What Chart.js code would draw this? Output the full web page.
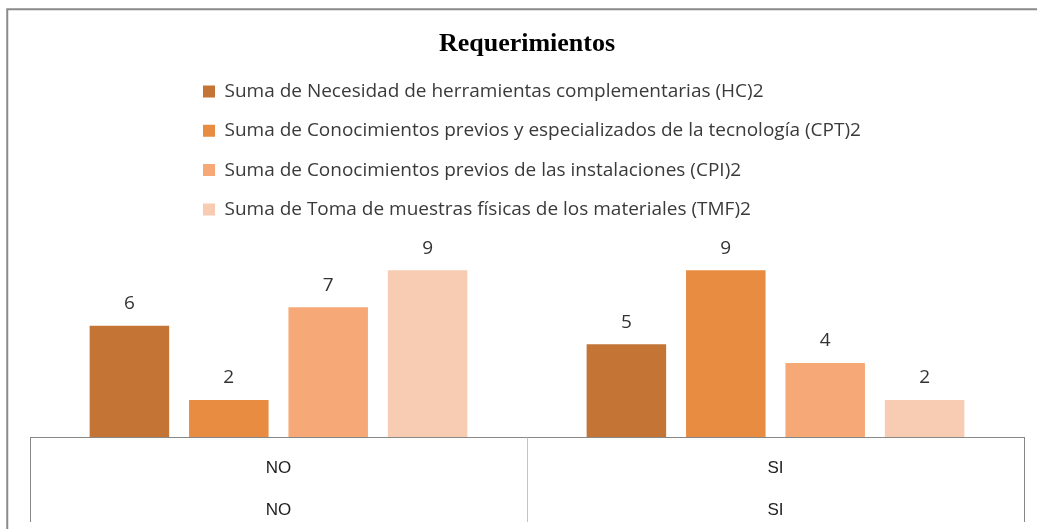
<!DOCTYPE html>
<html><head><meta charset="utf-8">
<script src="https://cdn.jsdelivr.net/npm/chart.js@4"></script>
<style>html,body{margin:0;padding:0;background:#fff;overflow:hidden}canvas{display:block}</style>
</head><body>
<canvas id="c" width="1037" height="529"></canvas>
<script>
const chartTitle = 'Requerimientos';
const categories = ['NO', 'SI'];
const seriesNames = [
  'Suma de Necesidad de herramientas complementarias (HC)2',
  'Suma de Conocimientos previos y especializados de la tecnología (CPT)2',
  'Suma de Conocimientos previos de las instalaciones (CPI)2',
  'Suma de Toma de muestras físicas de los materiales (TMF)2'
];
const hcValues  = [6, 5];
const cptValues = [2, 9];
const cpiValues = [7, 4];
const tmfValues = [9, 2];
const seriesColors = ['#C47535', '#E88C42', '#F6A977', '#F8CBB3'];

const seriesValues = [hcValues, cptValues, cpiValues, tmfValues];
const axisLabels = categories.map(c => [c, c]);

const framePlugin = {
  id: 'frame',
  beforeDraw(chart) {
    const ctx = chart.ctx;
    ctx.save();
    ctx.strokeStyle = '#8a8a8a';
    ctx.lineWidth = 2;
    ctx.strokeRect(7.25, 9.25, 3000, 3000);
    ctx.restore();
  }
};

const legendShift = {
  id: 'legendShift',
  afterLayout(chart) {
    const lg = chart.legend;
    lg.left = 203 - lg.options.labels.padding;
  }
};

const valueLabels = {
  id: 'valueLabels',
  afterDatasetsDraw(chart) {
    const ctx = chart.ctx;
    ctx.save();
    ctx.font = '19px "Open Sans"';
    ctx.fillStyle = '#333333';
    ctx.textAlign = 'center';
    ctx.textBaseline = 'middle';
    chart.data.datasets.forEach((ds, i) => {
      chart.getDatasetMeta(i).data.forEach((bar, j) => {
        ctx.fillText(String(ds.data[j]), bar.x, bar.y - 22);
      });
    });
    ctx.restore();
  }
};

new Chart(document.getElementById('c'), {
  type: 'bar',
  data: {
    labels: axisLabels,
    datasets: seriesNames.map((name, i) => ({
      label: name,
      data: seriesValues[i],
      backgroundColor: seriesColors[i],
      borderWidth: 0,
      barPercentage: 0.8,
      categoryPercentage: 0.8
    }))
  },
  options: {
    responsive: false,
    animation: false,
    layout: { padding: { left: 30, right: 13, top: 0, bottom: 0 } },
    plugins: {
      title: {
        display: true,
        text: chartTitle,
        color: '#000000',
        font: { family: 'Liberation Serif', size: 26, weight: 'bold', lineHeight: 1.2 },
        padding: { top: 28.5, bottom: 2 }
      },
      legend: {
        display: true,
        position: 'top',
        align: 'start',
        labels: {
          boxWidth: 12,
          boxHeight: 12,
          padding: 20.3,
          color: '#3a3a3a',
          font: { family: 'Open Sans', size: 19 }
        }
      },
      tooltip: { enabled: false }
    },
    scales: {
      x: {
        offset: true,
        afterFit(scale) { scale.height = 92; },
        grid: {
          display: true,
          offset: true,
          drawOnChartArea: false,
          drawTicks: true,
          tickLength: 85,
          lineWidth: 1,
          color: ctx => ctx.index === 1 ? '#c4c4c4' : '#878787'
        },
        border: { display: true, color: '#878787', width: 1 },
        ticks: {
          padding: -75,
          color: '#1e1e1e',
          font: { family: 'Liberation Sans', size: 17, lineHeight: 42 / 17 },
          maxRotation: 0,
          autoSkip: false
        }
      },
      y: {
        display: false,
        min: 0,
        max: 11.23,
        grid: { display: false }
      }
    }
  },
  plugins: [framePlugin, legendShift, valueLabels]
});
</script>
</body></html>
